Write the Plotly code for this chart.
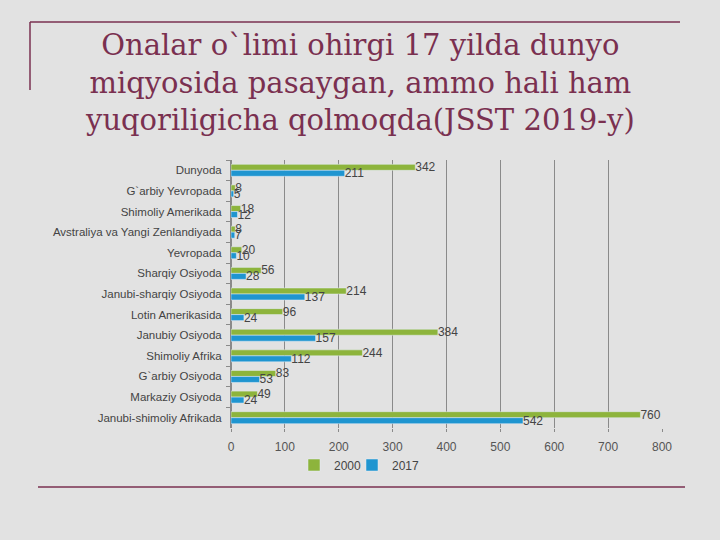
import plotly.graph_objects as go

categories = ["Dunyoda", "G`arbiy Yevropada", "Shimoliy Amerikada", "Avstraliya va Yangi Zenlandiyada",
              "Yevropada", "Sharqiy Osiyoda", "Janubi-sharqiy Osiyoda", "Lotin Amerikasida",
              "Janubiy Osiyoda", "Shimoliy Afrika", "G`arbiy Osiyoda", "Markaziy Osiyoda",
              "Janubi-shimoliy Afrikada"]
values_2000 = [342, 8, 18, 8, 20, 56, 214, 96, 384, 244, 83, 49, 760]
values_2017 = [211, 5, 12, 7, 10, 28, 137, 24, 157, 112, 53, 24, 542]
x_ticks = [0, 100, 200, 300, 400, 500, 600, 700, 800]

fig = go.Figure()
fig.add_trace(go.Bar(y=categories, x=values_2000, name="2000", orientation="h",
                     marker=dict(color="#8db43c"), text=values_2000, textposition="outside",
                     constraintext="none", legend="legend",
                     textfont=dict(size=12, color="#444"), cliponaxis=False))
fig.add_trace(go.Bar(y=categories, x=values_2017, name="2017", orientation="h",
                     marker=dict(color="#1f95d0"), text=values_2017, textposition="outside",
                     constraintext="none", legend="legend2",
                     textfont=dict(size=12, color="#444"), cliponaxis=False))

bg = "#e2e2e2"
maroon = "#7a3050"
H = 268.0
W = 431.0
leg_common = dict(orientation="h", yanchor="middle", font=dict(size=12, color="#444"),
                  bgcolor="rgba(0,0,0,0)", itemwidth=30)
fig.update_layout(
    width=720, height=540,
    paper_bgcolor=bg, plot_bgcolor=bg,
    barmode="group", bargap=0.42, bargroupgap=0,
    margin=dict(l=231, r=58, t=160, b=112),
    font=dict(family="Liberation Sans, Arial", color="#444"),
    showlegend=True,
    legend=dict(x=(294-231)/W, xanchor="left", y=-(465-428)/H, **leg_common),
    legend2=dict(x=(352-231)/W, xanchor="left", y=-(465-428)/H, **leg_common),
    xaxis=dict(range=[0, 800], tickvals=x_ticks, showgrid=True, gridcolor="#8a8a8a",
               gridwidth=1, zeroline=True, zerolinecolor="#8a8a8a",
               tickfont=dict(size=12, color="#555"), showline=False,
               ticks="outside", ticklen=3, tickcolor="#8a8a8a", ticklabelstandoff=5),
    yaxis=dict(autorange="reversed", tickfont=dict(size=11.5, color="#444"),
               showline=True, linecolor="#8a8a8a", ticks="outside", ticklen=4,
               tickson="boundaries", tickcolor="#8a8a8a", ticklabelstandoff=6),
    shapes=[
        dict(type="line", xref="paper", yref="paper", x0=(30-231)/W, x1=(680-231)/W,
             y0=(540-22-112)/H, y1=(540-22-112)/H, line=dict(color=maroon, width=1.5)),
        dict(type="line", xref="paper", yref="paper", x0=(30-231)/W, x1=(30-231)/W,
             y0=(540-90-112)/H, y1=(540-22-112)/H, line=dict(color=maroon, width=1.5)),
        dict(type="line", xref="paper", yref="paper", x0=(38-231)/W, x1=(685-231)/W,
             y0=(540-487-112)/H, y1=(540-487-112)/H, line=dict(color=maroon, width=1.5)),
    ],
    annotations=[dict(
        text="Onalar o`limi ohirgi 17 yilda dunyo<br>miqyosida pasaygan, ammo hali ham<br>yuqoriligicha qolmoqda(JSST 2019-y)",
        xref="paper", yref="paper", x=(360-231)/W, y=(540-26-112)/H,
        xanchor="center", yanchor="top", showarrow=False, align="center",
        font=dict(family="DejaVu Serif", size=29, color=maroon))],
)

fig.write_html("out.html", config={"displayModeBar": False},
               post_script="document.body.style.margin='0';document.body.style.background='#e2e2e2';")
